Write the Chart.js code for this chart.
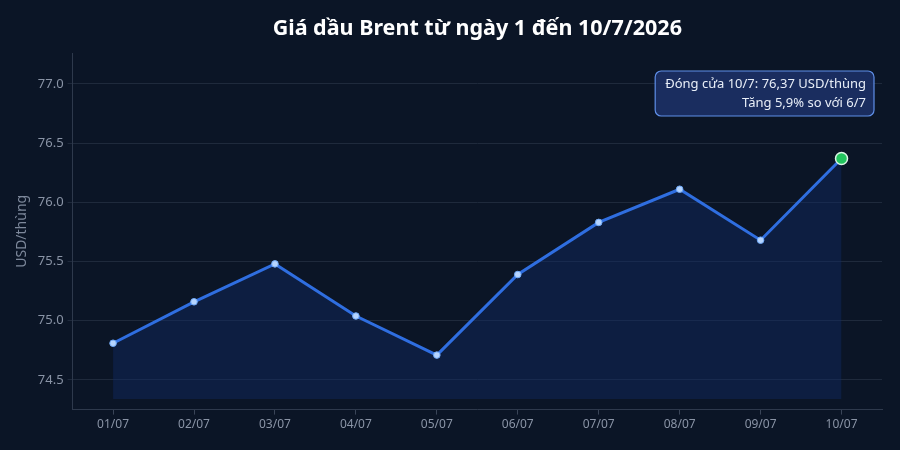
<!DOCTYPE html>
<html>
<head>
<meta charset="utf-8">
<script src="https://cdn.jsdelivr.net/npm/chart.js@4.4.1/dist/chart.umd.min.js"></script>
<style>
  html, body { margin: 0; padding: 0; background: #0b1526; }
  #wrap { width: 900px; height: 450px; }
</style>
</head>
<body>
<div id="wrap"><canvas id="myChart"></canvas></div>
<script>
const days = ['01/07', '02/07', '03/07', '04/07', '05/07', '06/07', '07/07', '08/07', '09/07', '10/07']
const brentPrice = [74.81, 75.16, 75.48, 75.04, 74.71, 75.39, 75.83, 76.11, 75.68, 76.37]
const chartTitle = 'Giá dầu Brent từ ngày 1 đến 10/7/2026'
const yTitle = 'USD/thùng'
const noteLines = ['Đóng cửa 10/7: 76,37 USD/thùng', 'Tăng 5,9% so với 6/7']

const fontFamily = "'Noto Sans', 'Open Sans', sans-serif"
const lastIdx = brentPrice.length - 1

// tieu de can giua vung ve
const centerTitle = {
    id: 'centerTitle',
    afterDraw(chart) {
        const { ctx, chartArea } = chart
        ctx.save()
        ctx.font = `bold 21.5px ${fontFamily}`
        ctx.fillStyle = '#ffffff'
        ctx.textAlign = 'center'
        ctx.textBaseline = 'middle'
        ctx.fillText(chartTitle, (chartArea.left + chartArea.right) / 2, 29)
        ctx.restore()
    }
}

// hop ghi chu goc tren ben phai
const noteBox = {
    id: 'noteBox',
    afterDraw(chart) {
        const { ctx, chartArea } = chart
        ctx.save()
        ctx.font = `13px ${fontFamily}`
        const w = Math.max(...noteLines.map(t => ctx.measureText(t).width)) + 18
        const h = 45
        const x = chartArea.right - 8 - w
        const y = chartArea.top + 18
        ctx.beginPath()
        ctx.roundRect(x, y, w, h, 6)
        ctx.fillStyle = 'rgba(28, 48, 100, 0.92)'
        ctx.fill()
        ctx.lineWidth = 1.2
        ctx.strokeStyle = '#5f8fe8'
        ctx.stroke()
        ctx.fillStyle = '#e8eef8'
        ctx.textAlign = 'right'
        ctx.textBaseline = 'middle'
        ctx.fillText(noteLines[0], x + w - 8, y + 13)
        ctx.fillText(noteLines[1], x + w - 8, y + 32)
        ctx.restore()
    }
}

const data = {
    labels: days,
    datasets: [{
        label: 'Brent',
        data: brentPrice,
        borderColor: '#2f6ee0',
        borderWidth: 3,
        tension: 0,
        fill: { target: { value: 74.34 } },
        backgroundColor: 'rgba(16, 42, 100, 0.45)',
        pointRadius: brentPrice.map((v, i) => i === lastIdx ? 6 : 3.3),
        pointBackgroundColor: brentPrice.map((v, i) => i === lastIdx ? '#22c55e' : '#b5d4ff'),
        pointBorderColor: brentPrice.map((v, i) => i === lastIdx ? '#d9f7e4' : '#6ea8f7'),
        pointBorderWidth: brentPrice.map((v, i) => i === lastIdx ? 1.5 : 1)
    }]
}

const config = {
    type: 'line',
    data,
    plugins: [centerTitle, noteBox],
    options: {
        responsive: true,
        maintainAspectRatio: false,
        animation: false,
        layout: { padding: { left: 12, right: 18, top: 53, bottom: 15 } },
        plugins: {
            legend: { display: false },
            tooltip: { enabled: false },
            title: { display: false }
        },
        scales: {
            x: {
                offset: true,
                grid: {
                    display: true,
                    drawOnChartArea: false,
                    color: '#3a4558',
                    tickLength: 5
                },
                border: { color: '#2e394c' },
                ticks: {
                    color: '#8a94a6',
                    font: { family: fontFamily, size: 12 },
                    padding: 3
                }
            },
            y: {
                min: 74.25,
                max: 77.26,
                grid: {
                    color: '#1f2a3c',
                    tickLength: 5
                },
                border: { color: '#2e394c' },
                ticks: {
                    stepSize: 0.5,
                    includeBounds: false,
                    color: '#8a94a6',
                    font: { family: fontFamily, size: 13 },
                    padding: 4,
                    callback: v => v.toFixed(1)
                },
                title: {
                    display: true,
                    text: yTitle,
                    color: '#7d889b',
                    font: { family: fontFamily, size: 14 },
                    padding: { top: 2, bottom: 3 }
                }
            }
        }
    }
}

new Chart(document.getElementById('myChart'), config)
</script>
</body>
</html>
